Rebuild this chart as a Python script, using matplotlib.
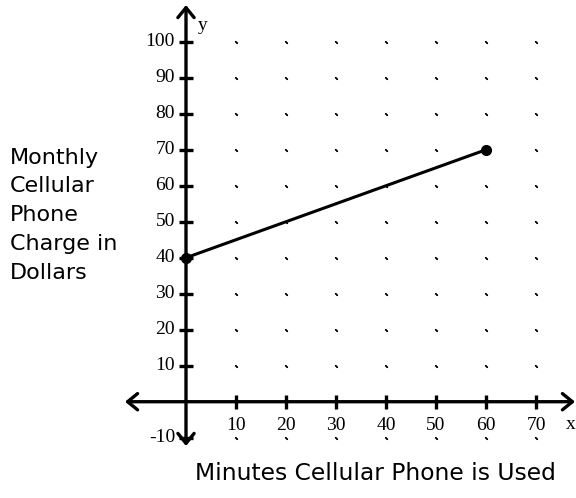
import numpy as np
import matplotlib.pyplot as plt
from matplotlib.patches import FancyArrowPatch

# minutes used vs. monthly charge
minutes = [0, 60]
charge = [40, 70]

x_ticks = [10, 20, 30, 40, 50, 60, 70]
y_ticks = [-10, 10, 20, 30, 40, 50, 60, 70, 80, 90, 100]
grid_x = [10, 20, 30, 40, 50, 60, 70]
grid_y = [-10, 10, 20, 30, 40, 50, 60, 70, 80, 90, 100]

fig = plt.figure(figsize=(5.76, 4.98), dpi=100)
ax = fig.add_axes([0, 0, 1, 1])
ax.set_xlim(-37.2, 78)
ax.set_ylim(-26.75, 111.6)
ax.axis("off")

serif = "Liberation Serif"

# dotted grid
gx, gy = np.meshgrid(grid_x, grid_y)
ax.plot(gx.ravel(), gy.ravel(), linestyle="none", marker=(2, 2, 45),
        markersize=2.5, markeredgewidth=0.9, color="black")

# axes with arrows at both ends
for start, end in [((-12.2, 0), (77.8, 0)), ((0, -12.3), (0, 110.2))]:
    ax.add_patch(FancyArrowPatch(start, end,
                                 arrowstyle="<->,head_length=0.55,head_width=0.45",
                                 mutation_scale=13, lw=2.4, color="black",
                                 shrinkA=0, shrinkB=0))

# tick marks and labels
tx = 7 / 5.0
ty = 7 / 3.6
for v in x_ticks:
    ax.plot([v, v], [-ty, ty], color="black", lw=2.4, solid_capstyle="butt")
    ax.text(v, -6.6, str(v), ha="center", va="center", fontsize=14,
            family=serif)
for v in y_ticks:
    ax.plot([-tx, tx], [v, v], color="black", lw=2.4, solid_capstyle="butt")
    ax.text(-2.2, v, str(v), ha="right", va="center", fontsize=14,
            family=serif)

ax.text(2.3, 104.5, "y", fontsize=14, family=serif, ha="left", va="center")
ax.text(76.0, -6.2, "x", fontsize=14, family=serif, ha="left", va="center")

# the charge line
ax.plot(minutes, charge, color="black", lw=2.2, marker="o", markersize=7,
        solid_capstyle="round")

ax.text(-35.2, 51.8, "Monthly\nCellular\nPhone\nCharge in\nDollars",
        ha="left", va="center", fontsize=16, family="DejaVu Sans",
        linespacing=1.55)
ax.text(37.8, -20.0, "Minutes Cellular Phone is Used", ha="center",
        va="center", fontsize=16.8, family="DejaVu Sans")

fig.savefig("out.png", dpi=100)
